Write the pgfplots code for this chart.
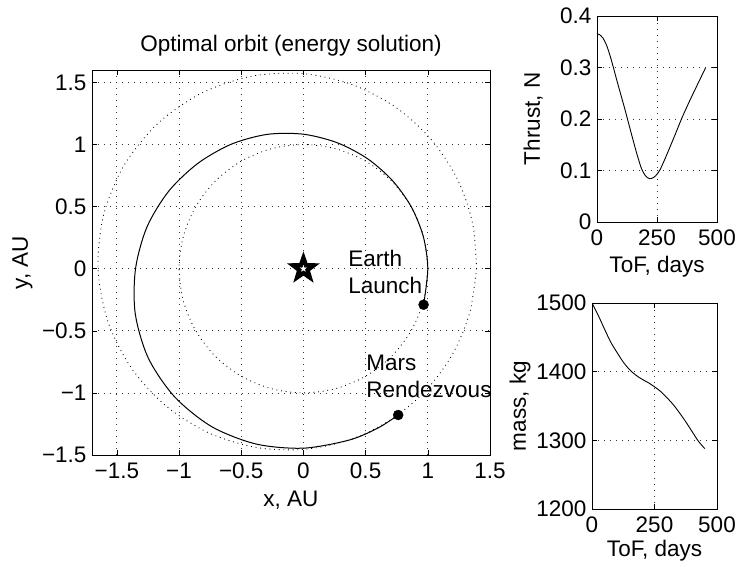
\documentclass[border=0pt]{standalone}
\usepackage{fontspec}
\setmainfont{Liberation Sans}
\usepackage{pgfplots}
\pgfplotsset{compat=1.18}

% filled five-point star (MATLAB 'p' marker)
\pgfdeclareplotmark{pentagram}{%
  \pgfpathmoveto{\pgfpointpolar{90}{\pgfplotmarksize}}%
  \pgfpathlineto{\pgfpointpolar{126}{0.40\pgfplotmarksize}}%
  \pgfpathlineto{\pgfpointpolar{162}{\pgfplotmarksize}}%
  \pgfpathlineto{\pgfpointpolar{198}{0.40\pgfplotmarksize}}%
  \pgfpathlineto{\pgfpointpolar{234}{\pgfplotmarksize}}%
  \pgfpathlineto{\pgfpointpolar{270}{0.40\pgfplotmarksize}}%
  \pgfpathlineto{\pgfpointpolar{306}{\pgfplotmarksize}}%
  \pgfpathlineto{\pgfpointpolar{342}{0.40\pgfplotmarksize}}%
  \pgfpathlineto{\pgfpointpolar{18}{\pgfplotmarksize}}%
  \pgfpathlineto{\pgfpointpolar{54}{0.40\pgfplotmarksize}}%
  \pgfpathclose
  \pgfusepathqfillstroke
}

\newcommand{\fs}{\fontsize{22.5}{27}\selectfont}

\pgfplotsset{
  mat/.style={
    scale only axis,
    axis line style={line width=0.9pt},
    tick style={black, line width=0.6pt},
    major tick length=5pt,
    grid=major,
    major grid style={black!80, line width=0.75pt, dash pattern=on 0.75pt off 5.25pt},
    tick label style={font=\fs},
    xticklabel style={yshift=-4pt},
    yticklabel style={xshift=-2pt},
    label style={font=\fs},
    title style={font=\fs},
  },
  orbit/.style={black, line width=0.85pt, dash pattern=on 0.85pt off 3.8pt, smooth, no marks},
}

\begin{document}
\begin{tikzpicture}
\path[use as bounding box] (0,0) rectangle (737pt,567pt);

% ---- main orbit plot ----
\begin{axis}[mat,
  at={(92pt,112pt)}, anchor=south west,
  width=398pt, height=385pt,
  xmin=-1.7, xmax=1.5, ymin=-1.5, ymax=1.6,
  xtick={-1.5,-1,-0.5,0,0.5,1,1.5},
  xticklabels={−1.5,−1,−0.5,0,0.5,1,1.5},
  ytick={-1.5,-1,-0.5,0,0.5,1,1.5},
  yticklabels={−1.5,−1,−0.5,0,0.5,1,1.5},
  xlabel={x, AU}, ylabel={y, AU},
  xlabel style={at={(axis description cs:0.5,-0.117)}, anchor=center},
  ylabel style={at={(axis description cs:-0.175,0.5)}, anchor=center, rotate=0},
  title={Optimal orbit (energy solution)},
  title style={at={(axis description cs:0.5,1.047)}, anchor=center},
]
% Earth orbit
\addplot[orbit] coordinates {
 (1,0) (0.9659,0.2588) (0.8660,0.5) (0.7071,0.7071) (0.5,0.8660) (0.2588,0.9659)
 (0,1) (-0.2588,0.9659) (-0.5,0.8660) (-0.7071,0.7071) (-0.8660,0.5) (-0.9659,0.2588)
 (-1,0) (-0.9659,-0.2588) (-0.8660,-0.5) (-0.7071,-0.7071) (-0.5,-0.8660) (-0.2588,-0.9659)
 (0,-1) (0.2588,-0.9659) (0.5,-0.8660) (0.7071,-0.7071) (0.8660,-0.5) (0.9659,-0.2588) (1,0)};
% Mars orbit
\addplot[orbit] coordinates {
 (1.3920,0) (1.3605,0.3645) (1.2402,0.7160) (1.0336,1.0336) (0.7480,1.2956) (0.3968,1.4808)
 (0,1.5704) (-0.4154,1.5503) (-0.8171,1.4152) (-1.1703,1.1703) (-1.4423,0.8327) (-1.6075,0.4307)
 (-1.6516,0) (-1.5734,-0.4216) (-1.3843,-0.7992) (-1.1052,-1.1052) (-0.7628,-1.3212) (-0.3853,-1.4382)
 (0,-1.4554) (0.3693,-1.3782) (0.7023,-1.2164) (0.9825,-0.9825) (1.1971,-0.6912) (1.3360,-0.3580) (1.3920,0)};
% transfer trajectory
\addplot[black, line width=1pt, smooth, no marks] coordinates {
 (0.966,-0.290) (1.000,0) (0.964,0.258) (0.866,0.500) (0.7128,0.7128) (0.5125,0.8877)
 (0.2718,1.0142) (0,1.083) (-0.2899,1.0818) (-0.579,1.0029) (-0.8485,0.8485) (-1.0825,0.625)
 (-1.2576,0.3370) (-1.350,0) (-1.3523,-0.3623) (-1.2471,-0.72) (-1.0338,-1.0338) (-0.735,-1.2731)
 (-0.3784,-1.4122) (0,-1.445) (0.3696,-1.3793) (0.5984,-1.2833) (0.762,-1.178)};
% Sun
\addplot[only marks, mark=pentagram, mark size=15.5pt, mark options={fill=black, draw=black, line width=1.2pt}] coordinates {(0,0)};
\addplot[only marks, mark=pentagram, mark size=3.4pt, mark options={fill=white, draw=white, line width=0.2pt}] coordinates {(0,0)};
% launch / rendezvous points
\addplot[only marks, mark=*, mark size=5pt, mark options={fill=black}] coordinates {(0.966,-0.290) (0.762,-1.178)};
\node[anchor=west, align=left, font=\fs, inner sep=0pt] at (axis cs:0.36,-0.03) {Earth\\Launch};
\node[anchor=west, align=left, font=\fs, inner sep=0pt] at (axis cs:0.505,-0.87) {Mars\\Rendezvous};
\end{axis}

% ---- thrust ----
\begin{axis}[mat,
  at={(597pt,345pt)}, anchor=south west,
  width=120pt, height=206pt,
  xmin=0, xmax=500, ymin=0, ymax=0.4,
  xtick={0,250,500}, xticklabels={0,250,500},
  ytick={0,0.1,0.2,0.3,0.4}, yticklabels={0,0.1,0.2,0.3,0.4},
  xlabel={ToF, days}, ylabel={Thrust, N},
  xlabel style={at={(axis description cs:0.5,-0.218)}, anchor=center},
  ylabel style={at={(axis description cs:-0.533,0.5)}, anchor=center},
]
\addplot[black, line width=0.9pt, smooth, no marks] coordinates {
 (0,0.365) (10,0.364) (25,0.357) (40,0.343) (55,0.322) (70,0.297) (85,0.271)
 (100,0.246) (115,0.221) (127,0.200) (140,0.177) (155,0.151) (170,0.126) (186,0.103)
 (200,0.091) (210,0.086) (220,0.084) (230,0.085) (245,0.090) (262,0.101) (280,0.119)
 (300,0.141) (325,0.169) (352,0.200) (375,0.224) (400,0.249) (425,0.273) (452,0.299)};
\end{axis}

% ---- mass ----
\begin{axis}[mat,
  at={(592pt,58pt)}, anchor=south west,
  width=125pt, height=206pt,
  xmin=0, xmax=500, ymin=1200, ymax=1500,
  xtick={0,250,500}, xticklabels={0,250,500},
  ytick={1200,1300,1400,1500}, yticklabels={1200,1300,1400,1500},
  xlabel={ToF, days}, ylabel={mass, kg},
  xlabel style={at={(axis description cs:0.5,-0.2)}, anchor=center},
  ylabel style={at={(axis description cs:-0.576,0.5)}, anchor=center},
]
\addplot[black, line width=0.9pt, smooth, no marks] coordinates {
 (0,1500) (25,1482) (50,1462) (75,1443) (100,1428) (125,1414) (150,1403) (175,1395)
 (200,1389) (225,1384) (250,1378) (275,1371) (300,1362) (325,1352) (350,1340)
 (375,1327) (400,1313) (425,1299) (451,1288)};
\end{axis}
\end{tikzpicture}
\end{document}
